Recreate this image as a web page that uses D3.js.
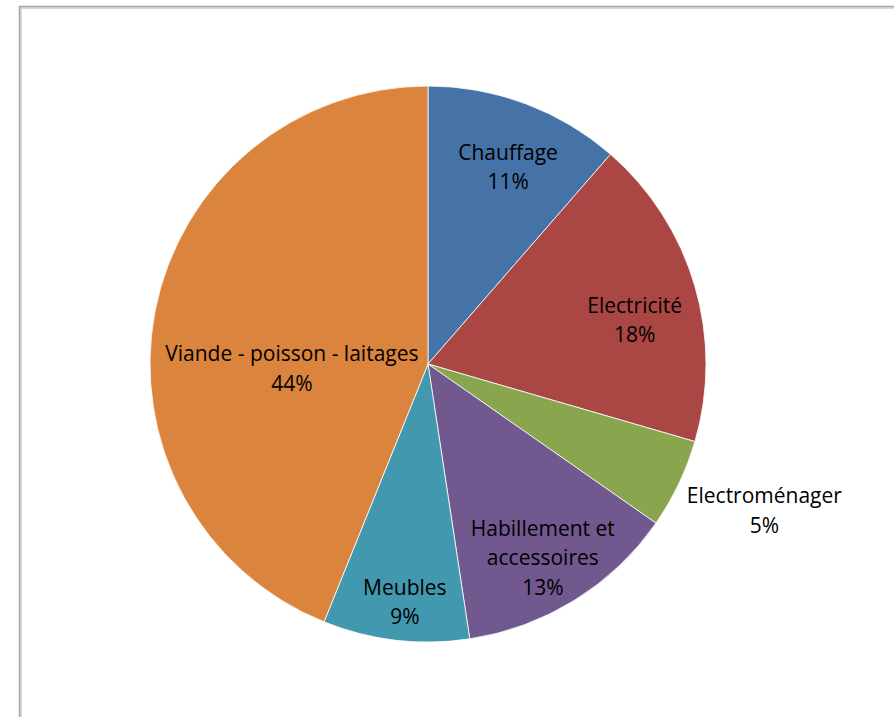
<!DOCTYPE html>
<html><head><meta charset="utf-8">
<script src="https://cdn.jsdelivr.net/npm/d3@7"></script>
<style>html,body{margin:0;padding:0;background:#fff;}svg{display:block;}</style>
</head><body>
<svg id="chart" width="894" height="717"></svg>
<script>
const categories = ["Chauffage","Electricité","Electroménager","Habillement et accessoires","Meubles","Viande - poisson - laitages"];
const values = [11.4, 18.1, 5.2, 12.9, 8.5, 43.9];
const percentLabels = ["11%","18%","5%","13%","9%","44%"];
const colors = ["#4572A7","#AA4643","#89A54E","#71588F","#4198AF","#DB843D"];

// label layout (line breaks and offsets are presentation, not data)
const labelLines = [["Chauffage"],["Electricité"],["Electroménager"],["Habillement et","accessoires"],["Meubles"],["Viande - poisson - laitages"]];
const labelRadiusRatio = [0.765, 0.76, 1.32, 0.81, 0.86, 0.49];
const labelAngleShift = [1.6, 4.4, -2.0, 1.2, -1.1, -13.0]; // degrees

const svg = d3.select("#chart");
const cx = 428, cy = 364, R = 278;

// frame
svg.append("rect").attr("x", 21).attr("y", 8).attr("width", 900).attr("height", 720)
  .attr("fill", "none").attr("stroke", "#d8d8d8").attr("stroke-width", 2);
svg.append("rect").attr("x", 19.5).attr("y", 6.5).attr("width", 900).attr("height", 720)
  .attr("fill", "none").attr("stroke", "#ababab").attr("stroke-width", 1.6);

const pie = d3.pie().sort(null).value(d => d)(values);
const arc = d3.arc().innerRadius(0).outerRadius(R);
const g = svg.append("g").attr("transform", `translate(${cx},${cy})`);

g.selectAll("path").data(pie).join("path")
  .attr("d", arc)
  .attr("fill", (d, i) => colors[i])
  .attr("stroke", "#ffffff").attr("stroke-width", 0.8);

const lineH = 29.5;
pie.forEach((d, i) => {
  const mid = (d.startAngle + d.endAngle) / 2 + labelAngleShift[i] * Math.PI / 180;
  const r = R * labelRadiusRatio[i];
  const x = r * Math.sin(mid), y = -r * Math.cos(mid);
  const lines = labelLines[i].concat([percentLabels[i]]);
  const t = g.append("text")
    .attr("text-anchor", "middle")
    .attr("font-family", "'Open Sans', sans-serif")
    .attr("font-size", 21)
    .attr("fill", "#000");
  lines.forEach((s, k) => {
    t.append("tspan").attr("x", x)
      .attr("y", y + (k - (lines.length - 1) / 2) * lineH)
      .attr("dy", "0.35em").text(s);
  });
});
</script>
</body></html>
